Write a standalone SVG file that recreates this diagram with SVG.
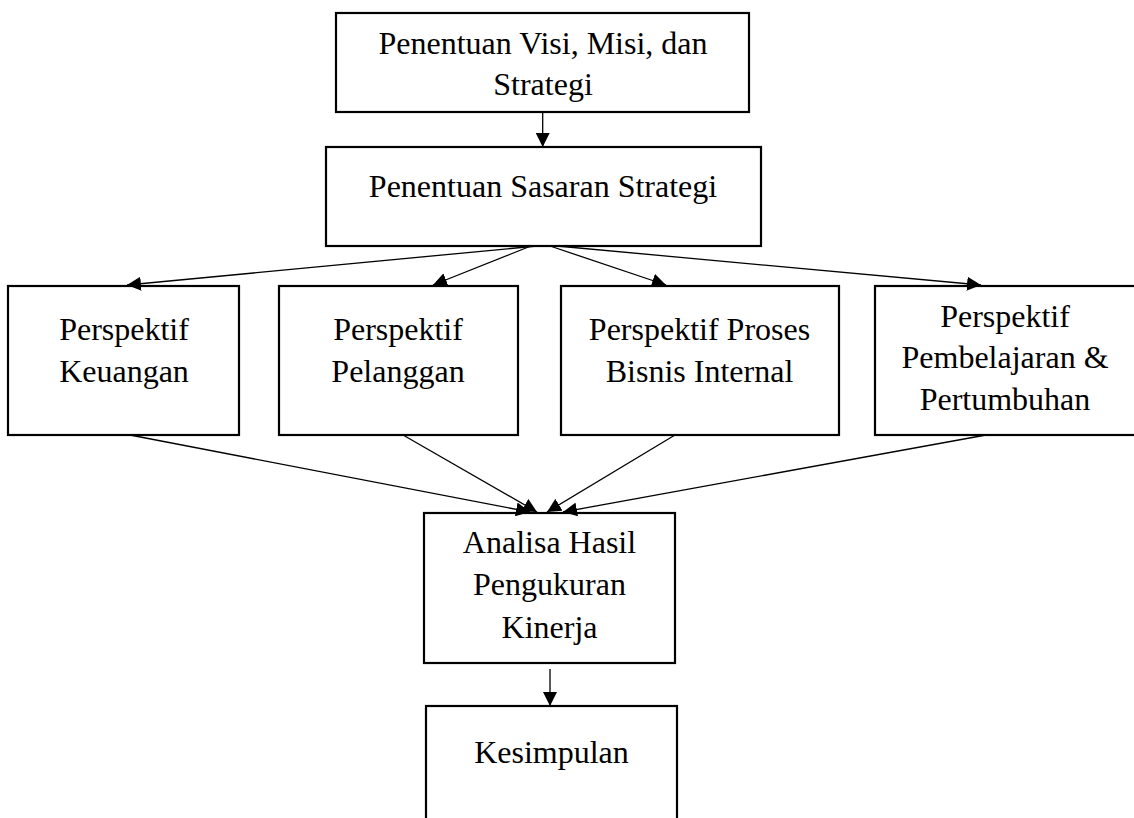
<svg xmlns="http://www.w3.org/2000/svg" width="1134" height="818" viewBox="0 0 1134 818">
<style>
.box{fill:#fff;stroke:#000;stroke-width:2.2}
.t{font-family:"Liberation Serif","Times New Roman",serif;font-size:32px;fill:#000;text-anchor:middle}
.c{stroke:#000;stroke-width:1.3;fill:none;marker-end:url(#ah)}
</style>
<defs>
<marker id="ah" markerUnits="userSpaceOnUse" markerWidth="14" markerHeight="14" viewBox="0 0 14 14" refX="14" refY="7" orient="auto">
<path d="M0,0 L14,7 L0,14 Z" fill="#000"/>
</marker>
</defs>
<rect width="1134" height="818" fill="#fff"/>
<g id="n1"><rect class="box" x="336" y="13" width="413" height="99"/>
<text class="t" x="543" y="54">Penentuan Visi, Misi, dan</text>
<text class="t" x="543" y="95">Strategi</text></g>
<g id="n2"><rect class="box" x="326" y="147" width="435" height="99"/>
<text class="t" x="543" y="197">Penentuan Sasaran Strategi</text></g>
<g id="n3"><rect class="box" x="8" y="286" width="231" height="149"/>
<text class="t" x="124" y="340">Perspektif</text>
<text class="t" x="124" y="382">Keuangan</text></g>
<g id="n4"><rect class="box" x="279" y="286" width="239" height="149"/>
<text class="t" x="398" y="340">Perspektif</text>
<text class="t" x="398" y="382">Pelanggan</text></g>
<g id="n5"><rect class="box" x="561" y="286" width="278" height="149"/>
<text class="t" x="699.5" y="340">Perspektif Proses</text>
<text class="t" x="699.5" y="382">Bisnis Internal</text></g>
<g id="n6"><rect class="box" x="875" y="286" width="262" height="149"/>
<text class="t" x="1005" y="327">Perspektif</text>
<text class="t" x="1005" y="368">Pembelajaran &amp;</text>
<text class="t" x="1005" y="410">Pertumbuhan</text></g>
<g id="n7"><rect class="box" x="424" y="513" width="251" height="150"/>
<text class="t" x="549.5" y="553">Analisa Hasil</text>
<text class="t" x="549.5" y="595">Pengukuran</text>
<text class="t" x="549.5" y="638">Kinerja</text></g>
<g id="n8"><rect class="box" x="426" y="706" width="251" height="130"/>
<text class="t" x="551.5" y="763">Kesimpulan</text></g>
<g id="connectors">
<line class="c" x1="542.7" y1="112" x2="542.7" y2="147"/>
<line class="c" x1="537" y1="246" x2="127" y2="285"/>
<line class="c" x1="531" y1="246" x2="433" y2="285"/>
<line class="c" x1="550" y1="246" x2="666" y2="285"/>
<line class="c" x1="557" y1="246" x2="981" y2="285"/>
<line class="c" x1="130" y1="435" x2="530" y2="512"/>
<line class="c" x1="403" y1="435" x2="537" y2="512"/>
<line class="c" x1="675" y1="435" x2="547" y2="512"/>
<line class="c" x1="986" y1="435" x2="563" y2="512"/>
<line class="c" x1="550" y1="669" x2="550" y2="706"/>
</g>
</svg>
